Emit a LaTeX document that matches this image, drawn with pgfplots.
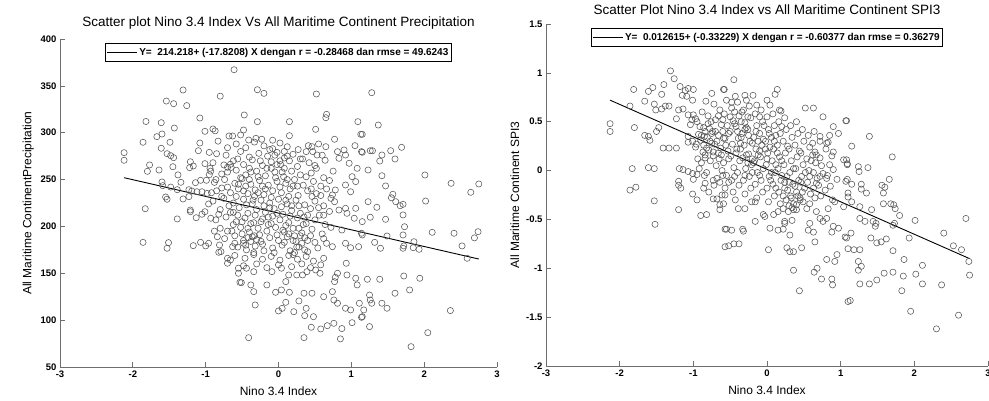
\documentclass[border=0pt]{standalone}
\usepackage{fontspec}
\setmainfont{Liberation Sans}
\usepackage{pgfplots}
\usepackage{pgfplotstable}
\pgfplotsset{compat=1.18}
\definecolor{mk}{RGB}{85,85,85}
\definecolor{ax}{RGB}{110,110,110}

% Nino 3.4 index vs precipitation
\pgfplotstableread{
x y
-0.61 367.2
-1.31 345.6
-1.54 333.8
-1.44 331
-1.26 328.9
-0.80 339
-1.82 312
-1.61 310.7
-1.08 315.7
-1.43 305
-1.01 301.5
-0.90 304
-0.87 302
-1.67 295.8
-1.60 298.6
-1.86 289.8
-1.49 289.8
-1.08 289
-0.68 296.5
-0.63 296.5
-0.83 291
-2.12 278.7
-2.12 270.6
-1.61 283.4
-1.53 277.6
-1.48 275.5
-1.44 273.4
-1.77 265.6
-1.80 258.8
-1.64 260.2
-1.45 263.7
-1.21 269
-1.22 262.7
-1.17 264.5
-1.10 280.8
-1.01 267
-0.85 277.6
-0.75 265.6
-0.70 263.1
-0.66 266.3
-1.38 255
-1.34 247.1
-1.60 247.4
-1.59 243.5
-1.48 242
-1.39 239.2
-1.31 229.3
-1.23 239.2
-1.14 246.7
-1.07 249.2
-0.99 249.2
-0.95 255.2
-1.19 237.8
-1.12 237
-1.05 237
-0.98 235.3
-0.92 236
-1.55 231.4
-1.53 229
-1.23 231.8
-1.21 217.5
-1.21 215.7
-1.83 218.9
-1.39 208
-1.13 209.3
-1.05 213
-1.01 215.7
-0.93 208.7
-1.86 183
-1.51 182.7
-1.53 176.7
-1.17 179.5
-1.07 183
-1.00 179.2
-0.96 182.0
-0.84 189
-0.81 180.2
-0.82 172.4
-0.79 173.1
-0.63 178.4
-0.70 166
-0.70 160.7
-0.66 164.2
-0.55 150
-0.53 140.4
-0.29 345.9
-0.20 342
0.52 341.3
-0.47 318.9
-0.29 311.8
0.15 311.8
0.66 319.6
0.65 316
1.09 311.8
0.51 303.6
-0.48 302.9
-0.52 297.6
-0.41 292.2
-0.31 294
-0.23 293
0.15 296.8
0.77 293
1.13 298.3
0.65 285.1
0.41 286.2
0.46 285.1
0.38 279.8
0.47 279.8
0.53 276.2
0.81 279.8
0.90 281.6
0.92 276.2
0.83 272.7
1.05 286.2
1.14 279.8
0.64 270.6
0.97 267.4
1.08 262
1.01 253.1
0.92 244.2
1.06 247.8
0.99 237
0.78 238.9
0.74 233.6
0.77 226.4
0.83 217.5
0.92 219.3
1.06 219.3
0.94 214
1.04 208.7
0.87 196.2
1.14 192.7
0.74 178.4
0.92 182
0.99 177.3
1.10 178.4
0.93 160.7
0.94 148.2
0.81 150
0.78 145.7
1.06 144.7
1.08 137.6
0.62 125
0.74 130.4
0.76 121.5
0.81 118
0.92 112.7
0.99 110.9
1.11 118
0.87 91
1.01 97.3
0.76 96.6
0.67 94.1
0.58 90.6
0.45 92.4
0.85 80
0.35 81.3
-0.41 81.3
0.21 109
0.36 104.8
0.48 103.7
0.38 112.6
-0.32 116.2
0.00 109.8
0.05 112.6
0.10 119
-0.04 129.7
0.04 132.2
0.15 129.7
-0.51 140
-0.38 137.6
-0.34 130.4
-0.16 137.6
0.28 120.5
0.35 128.7
0.46 128.7
0.25 148.2
0.33 148.2
0.39 151.7
0.51 153.5
0.57 150
0.77 141.1
-0.09 151.7
0.04 155.4
0.14 148.2
0.10 141.1
-0.55 155.4
-0.44 155.4
-0.34 151.7
1.28 342.7
1.37 308.2
1.15 298.3
1.15 279.1
1.26 280.8
1.29 280.8
1.42 276.2
1.39 269.8
1.54 280.8
1.60 272
1.69 284.4
1.23 260.2
1.42 254.1
1.47 243.2
2.01 254.9
2.37 246
2.75 245.3
2.64 236.4
1.57 234.3
1.55 230.6
1.61 226.4
1.67 222.1
1.71 223.6
2.02 227.1
1.23 226.4
1.35 220.4
1.15 205.1
1.26 209.8
1.47 207.6
1.71 212.3
1.73 199.7
1.15 190.9
1.49 189.8
1.71 190.9
1.32 183
1.40 176.7
1.71 176.7
1.72 179.2
1.86 183.7
1.85 177.3
1.93 175.6
2.11 193.7
2.41 192.7
2.52 179.2
2.59 166
2.69 187.8
2.74 194.4
1.22 143.6
1.39 143.6
1.72 147.1
1.94 144.7
1.60 128.7
1.80 132.2
1.25 126.8
1.26 121.5
1.28 118
1.42 118
1.49 112.7
1.17 110.9
1.15 103.7
1.14 103
1.25 93.1
2.36 110.2
2.05 86.6
1.82 71.7
-0.58 288
-0.45 284
-0.33 290
-0.20 286
-0.08 283
0.02 289
0.12 285
0.27 282
0.55 288
-0.95 279
-0.72 276
-0.52 280
-0.40 274
-0.27 278
-0.15 275
-0.02 279
0.08 273
0.20 277
0.33 272
0.60 276
-0.90 268
-0.62 270
-0.48 266
-0.36 271
-0.22 265
-0.10 269
0.03 266
0.15 270
0.26 264
0.42 268
0.52 262
-0.93 259
-0.78 256
-0.58 260
-0.45 255
-0.30 259
-0.18 254
-0.05 258
0.07 253
0.18 259
0.30 255
0.45 257
0.62 252
0.75 259
-0.88 247
-0.74 250
-0.60 246
-0.50 251
-0.38 245
-0.26 249
-0.14 244
-0.02 248
0.10 246
0.22 250
0.34 244
0.48 248
0.58 243
0.70 249
-0.85 238
-0.66 236
-0.55 240
-0.42 235
-0.32 239
-0.20 234
-0.08 238
0.04 236
0.16 240
0.27 233
0.40 238
0.52 235
0.66 240
-0.90 227
-0.75 230
-0.62 225
-0.48 229
-0.36 224
-0.24 228
-0.12 225
0.00 229
0.12 224
0.24 228
0.36 223
0.50 227
0.62 222
0.72 230
-0.80 218
-0.66 215
-0.54 220
-0.42 214
-0.30 218
-0.18 215
-0.06 219
0.06 213
0.18 217
0.30 214
0.44 219
0.56 212
0.70 216
-0.86 207
-0.72 210
-0.58 205
-0.46 209
-0.34 204
-0.22 208
-0.10 203
0.02 207
0.14 204
0.26 209
0.38 203
0.50 207
0.64 202
-0.80 198
-0.64 195
-0.52 199
-0.40 194
-0.28 198
-0.16 195
-0.04 199
0.08 194
0.20 198
0.32 193
0.46 197
0.60 192
0.72 199
-0.74 187
-0.60 190
-0.48 185
-0.36 189
-0.24 184
-0.12 188
0.00 185
0.12 189
0.24 184
0.36 188
0.50 183
0.62 187
-0.56 178
-0.44 175
-0.32 179
-0.20 174
-0.08 177
0.05 180
0.16 174
0.28 178
0.40 173
0.54 177
-0.60 169
-0.46 166
-0.34 170
-0.22 165
-0.10 168
0.02 164
0.14 169
0.26 165
0.38 168
0.48 163
0.62 166
-0.48 158
-0.30 160
-0.16 156
0.00 159
0.18 157
0.32 160
0.44 156
0.58 159
-0.65 263
-0.52 252
-0.40 262
-0.28 253
-0.16 262
-0.04 252
0.08 262
0.20 243
-0.70 242
-0.58 232
-0.45 243
-0.33 232
-0.22 243
-0.10 231
0.02 242
0.14 232
0.26 243
-0.68 222
-0.56 212
-0.44 223
-0.32 212
-0.20 222
-0.08 211
0.04 221
0.16 211
0.28 222
-0.62 202
-0.50 192
-0.38 203
-0.26 191
-0.14 202
-0.02 191
0.10 201
0.22 190
0.34 202
-0.48 182
-0.34 172
-0.22 181
-0.06 172
0.08 183
0.20 170
0.44 190
0.40 212
0.46 232
0.38 253
0.30 272
-0.56 272
-0.08 292
0.58 233
0.62 212
0.66 182
-0.82 213
-0.96 224
-0.88 195
-0.78 241
-0.94 262
-0.70 284
-0.42 188
-0.38 184
-0.33 190
-0.45 180
-0.30 186
0.20 185
0.25 178
0.32 182
0.36 175
0.40 185
0.22 172
0.30 190
-0.12 282
-0.05 276
0.02 270
0.08 280
-0.10 262
0.05 258
-0.02 266
0.12 250
-0.55 245
-0.48 238
-0.40 250
-0.35 228
-0.28 236
-0.18 240
-0.12 220
-0.02 214
0.10 228
0.18 222
-0.62 215
-0.50 205
-0.42 198
-0.24 205
-0.14 210
0.06 196
0.14 192
-0.70 195
-0.60 182
0.45 240
0.55 220
0.35 210
0.28 198
-0.78 232
-0.86 250
-0.70 258
0.50 265
0.12 275
-0.25 270
-0.38 258
}\precip

% Nino 3.4 index vs SPI3
\pgfplotstableread{
x y
-1.31 1.02
-1.26 0.94
-1.81 0.83
-1.61 0.81
-1.55 0.85
-1.40 0.88
-1.18 0.86
-1.11 0.82
-1.15 0.77
-1.07 0.84
-1.00 0.83
-1.09 0.76
-1.01 0.72
-1.43 0.78
-1.66 0.71
-1.53 0.68
-1.51 0.62
-1.43 0.63
-1.38 0.66
-1.33 0.66
-1.86 0.66
-1.23 0.53
-1.20 0.62
-1.14 0.63
-1.07 0.57
-1.00 0.57
-1.02 0.52
-0.97 0.53
-0.83 0.71
-0.75 0.79
-0.59 0.83
-1.04 0.47
-2.13 0.48
-2.13 0.40
-1.80 0.44
-1.66 0.36
-1.61 0.35
-1.59 0.31
-1.50 0.40
-1.47 0.44
-1.41 0.23
-1.33 0.23
-1.23 0.23
-1.07 0.29
-1.01 0.30
-0.96 0.27
-1.07 0.35
-0.91 0.45
-0.89 0.36
-0.84 0.40
-0.80 0.48
-0.75 0.38
-0.77 0.30
-0.86 0.26
-0.82 0.23
-0.84 0.13
-0.73 0.19
-0.66 0.18
-0.59 0.33
-1.83 0.02
-1.61 0.03
-1.53 0.02
-1.19 0.02
-1.14 0.01
-1.07 -0.01
-1.01 -0.03
-0.95 -0.04
-1.00 -0.09
-1.20 -0.11
-1.20 -0.15
-1.17 -0.18
-1.86 -0.20
-1.78 -0.17
-1.53 -0.31
-1.01 -0.24
-0.95 -0.30
-0.84 -0.13
-0.86 -0.18
-0.73 -0.10
-0.68 -0.08
-0.73 -0.29
-0.68 -0.29
-0.64 -0.35
-0.64 -0.40
-0.61 -0.25
-1.20 -0.40
-0.90 -0.46
-0.82 -0.45
-1.52 -0.55
-0.57 -0.60
-0.57 -0.78
-0.45 0.93
-0.58 0.83
0.14 0.83
0.11 0.78
-0.43 0.76
-0.30 0.77
-0.19 0.77
-0.48 0.70
-0.28 0.72
-0.14 0.67
0.00 0.72
0.04 0.67
0.17 0.62
0.19 0.61
0.52 0.64
0.63 0.64
0.76 0.55
1.07 0.51
0.90 0.45
0.97 0.38
0.85 0.36
0.72 0.35
0.81 0.28
0.83 0.29
0.65 0.19
0.67 0.16
0.72 0.13
0.90 0.19
1.04 0.11
1.09 0.07
0.95 -0.09
1.07 -0.11
1.10 -0.23
0.85 0.06
0.90 0.01
0.76 -0.03
0.81 -0.08
0.72 -0.06
0.67 -0.13
0.63 -0.18
0.92 -0.32
1.04 -0.37
0.58 -0.34
0.67 -0.42
0.72 -0.49
0.83 -0.39
0.81 -0.49
0.76 -0.52
0.88 -0.63
0.97 -0.59
1.06 -0.68
0.90 -0.57
0.56 -0.61
0.63 -0.63
0.58 -0.54
0.65 -0.73
0.27 -0.79
0.36 -0.83
0.47 -0.79
0.31 -0.83
0.31 -0.66
0.04 -0.59
0.15 -0.61
0.22 -0.60
0.02 -0.81
-0.55 -0.60
-0.48 -0.61
-0.33 -0.60
-0.32 -0.62
-0.16 -0.52
-0.52 -0.77
-0.45 -0.75
-0.38 -0.75
0.36 -1.02
0.64 -1.04
0.68 -1.00
0.74 -1.11
0.81 -0.91
0.95 -0.86
0.92 -0.93
0.88 -1.11
0.89 -1.17
0.44 -1.23
1.10 -1.34
-0.05 -0.45
-0.03 -0.47
0.09 -0.45
0.15 -0.42
0.24 -0.52
0.24 -0.54
0.34 -0.51
0.22 -0.39
0.29 -0.42
0.36 -0.40
0.40 -0.35
0.45 -0.28
0.49 -0.32
0.54 -0.39
-0.43 -0.30
-0.39 -0.39
-0.30 -0.39
-0.21 -0.32
-0.16 -0.32
-0.59 -0.34
-0.57 -0.25
1.08 0.51
1.39 0.35
1.15 0.25
1.70 0.14
1.08 0.11
1.09 0.06
1.24 0.04
1.25 -0.01
1.37 0.03
1.09 -0.09
1.15 -0.14
1.28 -0.14
1.28 -0.19
1.35 -0.23
1.56 -0.15
1.60 -0.17
1.66 -0.09
1.58 -0.23
1.58 -0.34
1.68 -0.34
1.74 -0.39
1.72 -0.35
1.80 -0.46
1.10 -0.27
1.15 -0.32
1.26 -0.37
1.42 -0.40
1.44 -0.52
1.47 -0.57
1.48 -0.54
1.26 -0.49
1.33 -0.52
1.73 -0.54
1.71 -0.56
2.01 -0.51
1.14 -0.64
1.08 -0.69
1.10 -0.80
1.18 -0.81
1.26 -0.81
1.41 -0.69
1.49 -0.74
1.55 -0.73
1.62 -0.70
1.93 -0.69
1.71 -0.82
2.40 -0.64
2.70 -0.49
2.53 -0.77
2.64 -0.81
2.74 -0.93
2.75 -1.07
1.86 -0.91
2.11 -0.97
2.02 -1.06
1.85 -1.08
1.24 -0.93
1.28 -0.98
1.24 -1.02
1.59 -1.05
1.71 -1.04
1.49 -1.12
1.39 -1.16
1.26 -1.16
2.11 -1.16
2.37 -1.17
1.83 -1.23
1.13 -1.33
1.95 -1.44
2.60 -1.48
2.30 -1.62
-0.95 0.50
-0.93 0.37
-0.97 0.24
-0.94 0.12
-0.92 0.02
-0.88 0.60
-0.86 0.44
-0.90 0.31
-0.87 0.19
-0.89 0.08
-0.85 -0.05
-0.80 0.56
-0.78 0.43
-0.81 0.34
-0.79 0.21
-0.77 0.10
-0.82 -0.02
-0.79 -0.22
-0.72 0.68
-0.70 0.52
-0.74 0.40
-0.71 0.27
-0.73 0.15
-0.69 0.05
-0.72 -0.15
-0.64 0.62
-0.62 0.47
-0.66 0.36
-0.63 0.23
-0.65 0.12
-0.61 0.00
-0.64 -0.12
-0.55 0.72
-0.58 0.58
-0.54 0.46
-0.57 0.33
-0.53 0.20
-0.59 0.08
-0.55 -0.05
-0.57 -0.18
-0.48 0.64
-0.46 0.51
-0.50 0.40
-0.47 0.27
-0.49 0.15
-0.45 0.03
-0.48 -0.10
-0.46 -0.22
-0.40 0.70
-0.38 0.56
-0.42 0.45
-0.39 0.33
-0.41 0.22
-0.37 0.10
-0.40 -0.02
-0.38 -0.15
-0.32 0.62
-0.30 0.49
-0.34 0.38
-0.31 0.26
-0.33 0.13
-0.29 0.02
-0.32 -0.10
-0.30 -0.24
-0.24 0.66
-0.22 0.54
-0.26 0.42
-0.23 0.30
-0.25 0.17
-0.21 0.06
-0.24 -0.06
-0.22 -0.18
-0.16 0.58
-0.14 0.46
-0.18 0.34
-0.15 0.22
-0.17 0.10
-0.13 -0.02
-0.16 -0.14
-0.14 -0.28
-0.08 0.62
-0.06 0.50
-0.10 0.38
-0.07 0.26
-0.09 0.14
-0.05 0.02
-0.08 -0.10
-0.06 -0.22
0.00 0.55
0.02 0.42
-0.02 0.30
0.01 0.18
-0.01 0.06
0.03 -0.06
0.00 -0.18
0.02 -0.32
0.08 0.58
0.10 0.46
0.06 0.34
0.09 0.22
0.07 0.10
0.11 -0.02
0.08 -0.14
0.10 -0.26
0.16 0.50
0.18 0.38
0.14 0.26
0.17 0.14
0.15 0.02
0.19 -0.10
0.16 -0.22
0.18 -0.34
0.24 0.54
0.26 0.42
0.22 0.30
0.25 0.18
0.23 0.06
0.27 -0.06
0.24 -0.18
0.26 -0.30
0.32 0.46
0.34 0.34
0.30 0.22
0.33 0.10
0.31 -0.02
0.35 -0.14
0.32 -0.26
0.34 -0.38
0.40 0.50
0.42 0.38
0.38 0.26
0.41 0.14
0.39 0.02
0.43 -0.10
0.40 -0.22
0.48 0.42
0.50 0.30
0.46 0.18
0.49 0.06
0.47 -0.06
0.51 -0.18
0.56 0.36
0.58 0.24
0.54 0.12
0.57 0.00
0.55 -0.12
0.59 -0.24
0.64 0.40
0.62 0.28
0.66 0.08
0.63 -0.02
0.65 -0.28
0.72 0.30
0.74 0.05
0.70 -0.15
0.73 -0.26
0.80 0.22
0.82 -0.05
0.79 -0.20
0.88 0.15
0.86 -0.16
0.89 -0.30
-0.60 0.52
-0.52 0.38
-0.44 0.60
-0.36 0.28
-0.28 0.44
-0.20 0.12
-0.12 0.30
-0.04 0.46
0.04 0.24
0.12 0.36
0.20 0.10
0.28 0.25
0.36 0.02
0.44 0.20
0.52 -0.02
0.60 0.10
-0.68 0.30
-0.76 0.50
-0.84 0.16
-0.44 -0.06
-0.20 -0.02
0.05 -0.10
0.30 -0.12
0.45 -0.30
-0.35 0.50
-0.10 0.55
0.20 0.45
-0.60 -0.05
-0.26 0.08
0.12 0.06
-0.44 0.48
-0.40 0.40
-0.35 0.34
-0.30 0.42
-0.25 0.36
-0.20 0.28
-0.15 0.40
-0.10 0.20
-0.05 0.32
0.00 0.12
-0.42 0.18
-0.36 0.22
-0.28 0.16
-0.18 0.08
-0.12 0.16
-0.02 0.22
0.03 0.38
-0.34 0.60
-0.26 0.55
-0.50 0.55
0.20 -0.05
0.24 -0.12
0.28 -0.20
0.33 -0.28
0.38 -0.16
0.42 -0.26
0.46 -0.12
0.36 -0.34
0.30 -0.36
0.22 -0.26
0.40 -0.40
0.48 -0.22
-0.70 0.40
-0.66 0.56
-0.60 0.40
-0.56 0.26
-0.52 0.12
-0.62 0.16
-0.75 0.28
-0.85 0.35
0.10 0.30
0.14 0.18
0.06 -0.02
0.12 -0.18
0.58 -0.06
0.62 0.16
0.68 -0.08
-0.10 -0.05
-0.30 -0.05
-0.52 -0.12
}\spi

\pgfplotsset{
  mstyle/.style={
    scale only axis,
    axis lines*=left,
    axis line style={draw=ax, line width=0.7pt, -},
    tick align=inside,
    major tick length=5pt,
    every tick/.style={draw=ax, line width=0.7pt},
    tick label style={font=\fontsize{9.5}{11}\selectfont\bfseries},
    /pgf/number format/assume math mode=true,
    xmin=-3, xmax=3,
    xtick={-3,-2,-1,0,1,2,3},
    label style={font=\fontsize{12}{14}\selectfont},
    xlabel style={yshift=-3pt},
    title style={font=\fontsize{13.5}{15}\selectfont},
    xlabel={Nino 3.4 Index},
    legend cell align=left,
    legend style={draw=black, line width=0.7pt, fill=white,
      font=\fontsize{10}{12}\selectfont\bfseries,
      at={(0.5,1)}, anchor=north, yshift=-4pt,
      inner xsep=1pt, inner ysep=2.5pt},
    legend image code/.code={\draw[black, line width=0.7pt] (0pt,0pt) -- (30pt,0pt);},
  },
  dots/.style={only marks, mark=o, mark size=3.1pt, draw=mk, line width=0.55pt},
  fit/.style={black, line width=0.9pt, no marks},
}

\begin{document}
\begin{tikzpicture}
\useasboundingbox (0,0) rectangle (989pt,401pt);

\begin{axis}[mstyle,
    at={(60pt,34pt)}, anchor=south west,
    width=437pt, height=328pt,
    ymin=50, ymax=400,
    ytick={50,100,...,400},
    ylabel={All Maritime ContinentPrecipitation},
    title={Scatter plot Nino 3.4 Index Vs All Maritime Continent Precipitation},
  ]
  \addplot[dots, forget plot] table {\precip};
  \addplot[fit] coordinates {(-2.12,251.99) (2.75,165.21)};
  \addlegendentry{Y=\ \ 214.218+ (-17.8208) X dengan r = -0.28468 dan rmse = 49.6243}
\end{axis}

\begin{axis}[mstyle,
    at={(546pt,35pt)}, anchor=south west,
    width=442pt, height=342pt,
    ymin=-2, ymax=1.5,
    ytick={-2,-1.5,...,1.5},
    ylabel={All Maritime Continent SPI3},
    title={Scatter Plot Nino 3.4 Index vs All Maritime Continent SPI3},
  ]
  \addplot[dots, forget plot] table {\spi};
  \addplot[fit] coordinates {(-2.13,0.7204) (2.75,-0.9012)};
  \addlegendentry{Y=\ \ 0.012615+ (-0.33229) X dengan r = -0.60377 dan rmse = 0.36279}
\end{axis}
\end{tikzpicture}
\end{document}
